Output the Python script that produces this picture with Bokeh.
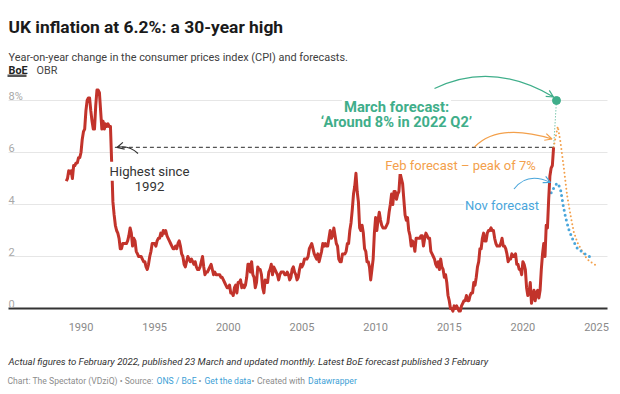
from bokeh.plotting import figure
from bokeh.models import Label, Arrow, OpenHead
from bokeh.core.properties import value
from bokeh.embed import file_html
from bokeh.resources import INLINE

# ---------------- data ----------------
# Monthly CPI annual rate, Jan 1989 .. Feb 2022
cpi_1989_1993 = [4.9, 5.0, 5.3, 5.2, 5.3, 5.0, 5.5, 5.5, 5.6, 5.6, 5.8, 5.8,
                 6.0, 6.5, 6.8, 6.9, 7.6, 8.0, 8.1, 8.1, 7.6, 7.2, 6.9, 6.9,
                 7.8, 8.4, 8.4, 8.3, 7.6, 6.9, 7.2, 6.9, 7.1, 7.0, 7.1, 7.0,
                 7.0, 5.6, 4.1, 3.6, 3.2, 3.0, 2.9, 2.7, 2.3, 2.3, 2.5, 2.5,
                 2.5, 2.5, 2.6, 2.8, 3.1, 2.9, 2.4, 2.7, 2.6, 2.2, 2.1, 2.0]
cpi_1994_1998 = [2.0, 2.0, 1.9, 1.8, 1.8, 1.6, 1.5, 1.7, 2.0, 2.2, 2.5, 2.5,
                 2.5, 2.4, 2.6, 2.7, 2.7, 2.9, 2.8, 3.0, 2.9, 3.0, 2.8, 2.7,
                 2.6, 2.5, 2.4, 2.3, 2.3, 2.4, 2.3, 2.5, 2.6, 2.4, 2.1, 2.0,
                 1.7, 1.6, 1.8, 2.0, 1.9, 1.8, 1.9, 1.8, 1.7, 1.8, 1.6, 1.5,
                 1.5, 1.6, 1.8, 2.0, 1.6, 1.3, 1.4, 1.4, 1.5, 1.6, 1.7, 1.5]
cpi_1999_2003 = [1.3, 1.4, 1.3, 1.3, 1.3, 1.3, 1.2, 1.2, 1.1, 1.0, 0.9, 0.8,
                 0.8, 0.9, 0.6, 0.6, 0.5, 0.8, 0.9, 0.6, 1.0, 1.0, 1.1, 0.8,
                 0.9, 0.8, 0.9, 1.2, 1.7, 1.7, 1.4, 1.8, 1.3, 1.2, 0.8, 1.0,
                 1.6, 1.5, 1.5, 1.3, 0.8, 0.6, 1.1, 1.0, 1.0, 1.4, 1.5, 1.7,
                 1.3, 1.6, 1.5, 1.4, 1.3, 1.1, 1.3, 1.4, 1.4, 1.4, 1.3, 1.3]
cpi_2004_2008 = [1.4, 1.3, 1.1, 1.2, 1.5, 1.6, 1.4, 1.3, 1.1, 1.2, 1.5, 1.7,
                 1.6, 1.7, 1.9, 1.9, 1.9, 2.0, 2.3, 2.4, 2.5, 2.3, 2.1, 2.0,
                 1.9, 2.1, 1.8, 2.0, 2.2, 2.5, 2.4, 2.5, 2.4, 2.4, 2.7, 3.0,
                 2.7, 2.8, 3.1, 2.8, 2.5, 2.4, 1.9, 1.8, 1.8, 2.1, 2.1, 2.1,
                 2.2, 2.5, 2.5, 3.0, 3.3, 3.8, 4.4, 4.7, 5.2, 4.5, 4.1, 3.1]
cpi_2009_2013 = [3.0, 3.2, 2.9, 2.3, 2.2, 1.8, 1.8, 1.6, 1.1, 1.5, 1.9, 2.9,
                 3.5, 3.0, 3.4, 3.7, 3.4, 3.2, 3.1, 3.1, 3.1, 3.2, 3.3, 3.7,
                 4.0, 4.4, 4.0, 4.5, 4.5, 4.2, 4.4, 4.5, 5.2, 5.0, 4.8, 4.2,
                 3.6, 3.4, 3.5, 3.0, 2.8, 2.4, 2.6, 2.5, 2.2, 2.7, 2.7, 2.7,
                 2.7, 2.8, 2.8, 2.4, 2.7, 2.9, 2.8, 2.7, 2.7, 2.2, 2.1, 2.0]
cpi_2014_2018 = [1.9, 1.7, 1.6, 1.8, 1.5, 1.9, 1.6, 1.5, 1.2, 1.3, 1.0, 0.5,
                 0.3, 0.0, 0.0, -0.1, 0.1, 0.0, 0.1, 0.0, -0.1, -0.1, 0.1, 0.2,
                 0.3, 0.3, 0.5, 0.3, 0.3, 0.5, 0.6, 0.6, 1.0, 0.9, 1.2, 1.6,
                 1.8, 2.3, 2.3, 2.7, 2.9, 2.6, 2.6, 2.9, 3.0, 3.0, 3.1, 3.0,
                 3.0, 2.7, 2.5, 2.4, 2.4, 2.4, 2.5, 2.7, 2.4, 2.4, 2.3, 2.1]
cpi_2019_2022 = [1.8, 1.9, 1.9, 2.1, 2.0, 2.0, 2.1, 1.7, 1.7, 1.5, 1.5, 1.3,
                 1.8, 1.7, 1.5, 0.8, 0.5, 0.6, 1.0, 0.2, 0.5, 0.7, 0.3, 0.6,
                 0.7, 0.4, 0.7, 1.5, 2.1, 2.5, 2.0, 3.2, 3.1, 4.2, 5.1, 5.4,
                 5.5, 6.2]
cpi_start_year = 1989

# BoE February 2022 forecast (orange)
feb_dates = [2022.083, 2022.37, 2022.55, 2022.78, 2023.0, 2023.23, 2023.45,
             2023.69, 2024.02, 2024.36, 2024.7, 2025.0]
feb_values = [6.2, 7.0, 6.4, 5.4, 4.35, 3.6, 2.95, 2.55, 2.2, 1.9, 1.75, 1.65]

# BoE November 2021 forecast (blue)
nov_dates = [2021.92, 2022.2, 2022.37, 2022.55, 2022.74, 2022.9, 2023.11,
             2023.35, 2023.64, 2024.02, 2024.36, 2024.64]
nov_values = [4.45, 4.75, 4.82, 4.6, 3.95, 3.5, 3.05, 2.7, 2.35, 2.18, 2.04, 1.97]

# March forecast: 'around 8% in 2022 Q2'
march_dates = [2022.083, 2022.28]
march_values = [6.2, 8.0]

# "Highest since 1992" reference line
highest_dates = [1992.3, 2022.083]
highest_values = [6.2, 6.2]

y_ticks = [0, 2, 4, 6, 8]
y_tick_labels = ["0", "2", "4", "6", "8%"]
x_ticks = [1990, 1995, 2000, 2005, 2010, 2015, 2020, 2025]
x_tick_labels = ["1990", "1995", "2000", "2005", "2010", "2015", "2020", "2025"]

cpi_values = (cpi_1989_1993 + cpi_1994_1998 + cpi_1999_2003 + cpi_2004_2008
              + cpi_2009_2013 + cpi_2014_2018 + cpi_2019_2022)
cpi_dates = [cpi_start_year + i / 12 for i in range(len(cpi_values))]

# ---------------- layout helpers (window pixels -> data) ----------------
X0, XS = 80.5, 14.73    # window x of 1990, px per year
Y0, YS = 308.0, 26.0    # window y of 0%, px per point


def X(px):
    return 1990 + (px - X0) / XS


def Y(py):
    return (Y0 - py) / YS


FONT = "Roboto"
RED = "#c2332b"
ORANGE = "#f3a04b"
BLUE = "#4aa6db"
GREEN = "#3fae8a"
DARK = "#333333"

W, H = 612, 386
p = figure(width=W, height=H, x_range=(X(0), X(W)), y_range=(Y(H), Y(0)),
           output_backend="svg", toolbar_location=None, min_border=0,
           x_axis_type=None, y_axis_type=None, outline_line_color=None,
           background_fill_color="white", border_fill_color="white")
p.grid.visible = False

# gridlines and baseline
grid_vals = [v for v in y_ticks if v != 0]
p.segment(x0=[X(8)] * len(grid_vals), x1=[X(607)] * len(grid_vals),
          y0=grid_vals, y1=grid_vals, line_color="#e6e6e6", line_width=1)
p.segment(x0=[X(8)], x1=[X(607)], y0=[0], y1=[0], line_color=DARK, line_width=2)

# y tick labels (inside, above gridlines)
p.text(x=[X(8)] * len(y_ticks), y=[v + 4.5 / YS for v in y_ticks], text=y_tick_labels,
       text_font=value(FONT), text_font_size="11px", text_color="#a8a8a8",
       text_align="left", text_baseline="alphabetic")

# x tick labels
p.text(x=x_ticks, y=[Y(326.7)] * len(x_ticks), text=x_tick_labels,
       text_font=value(FONT), text_font_size="11px", text_color="#8a8a8a",
       text_align="center", text_baseline="alphabetic")

# dashed "highest since" line
p.line(highest_dates, highest_values, line_color="#555555", line_width=1.3, line_dash="4 3")

# forecasts
p.line(march_dates, march_values, line_color=GREEN, line_width=1, line_dash="1 2")
p.line(feb_dates, feb_values, line_color=ORANGE, line_width=2, line_dash="0 4", line_cap="round")
p.line(nov_dates, nov_values, line_color=BLUE, line_width=3, line_dash="0 5", line_cap="round")

# actual CPI
p.line(cpi_dates, cpi_values, line_color=RED, line_width=3, line_join="round")

p.scatter([march_dates[-1]], [march_values[-1]], size=8, fill_color=GREEN, line_color=GREEN)


# curved arrows
def curved_arrow(sx, sy, cx, cy, ex, ey, color):
    p.quadratic(x0=[X(sx)], y0=[Y(sy)], cx=[X(cx)], cy=[Y(cy)], x1=[X(ex)], y1=[Y(ey)],
                line_color=color, line_width=1.2)
    dx, dy = ex - cx, ey - cy
    n = (dx * dx + dy * dy) ** 0.5
    bx, by = ex - 3 * dx / n, ey - 3 * dy / n
    p.add_layout(Arrow(x_start=X(bx), y_start=Y(by), x_end=X(ex), y_end=Y(ey),
                       line_color=color, line_width=1.2,
                       end=OpenHead(size=7, line_color=color, line_width=1.2)))


curved_arrow(434, 88, 492, 60, 553, 96.5, GREEN)
curved_arrow(474, 146.5, 498, 122, 551.5, 138.5, ORANGE)
curved_arrow(513.5, 188.5, 527, 171, 550, 182, BLUE)
curved_arrow(137.5, 153, 128, 144, 116.5, 147, DARK)


def label(px, py, text, size, color, align="left", style="normal", bg=None, pad=0):
    kw = {}
    if bg:
        kw = dict(background_fill_color=bg, padding=pad)
    p.add_layout(Label(x=X(px), y=Y(py), text=text, text_font=FONT, text_font_size=size,
                       text_color=color, text_align=align, text_baseline="alphabetic",
                       text_font_style=style, **kw))


# annotations
label(396, 106, "March forecast:", "14.8px", GREEN, "center", "bold", "white", 2)
label(396, 121.7, "\u2018Around 8% in 2022 Q2\u2019", "14.6px", GREEN, "center", "bold", "white", 1)
label(460, 165, "Feb forecast \u2013 peak of 7%", "13px", ORANGE, "center", bg="white", pad=1)
label(501.5, 205, "Nov forecast", "13px", BLUE, "center", bg="white", pad=1)
label(149, 170.7, "Highest since", "13.2px", DARK, "center", bg="white", pad=2)
label(149, 185.7, "1992", "13.2px", DARK, "center")

# header
label(8, 26, "UK inflation at 6.2%: a 30-year high", "17.4px", "#1a1a1a", style="bold")
label(8, 57.3, "Year-on-year change in the consumer prices index (CPI) and forecasts.",
      "10.9px", "#404040")
label(8, 70, "BoE", "10.8px", "#222222", style="bold")
label(36, 70, "OBR", "10.8px", "#444444")
p.quad(left=[X(7)], right=[X(26)], top=[Y(74)], bottom=[Y(76.5)], fill_color="#555555",
       line_color=None)

# footer
label(8, 361, "Actual figures to February 2022, published 23 March and updated monthly. "
      "Latest BoE forecast published 3 February", "9.6px", "#333333", style="italic")
GRAY = "#8c8c8c"
LINK = "#3d9fd6"
FS = "8.6px"
label(7, 380, "Chart: The Spectator (VDziQ) \u2022 Source:", FS, GRAY)
label(156, 380, "ONS / BoE", FS, LINK)
label(199.5, 380, "\u2022", FS, GRAY, "center")
label(204, 380, "Get the data", FS, LINK)
label(252.5, 380, "\u2022", FS, GRAY, "center")
label(256.5, 380, "Created with", FS, GRAY)
label(307.5, 380, "Datawrapper", FS, LINK)

open("out.html", "w").write(file_html(p, INLINE))
